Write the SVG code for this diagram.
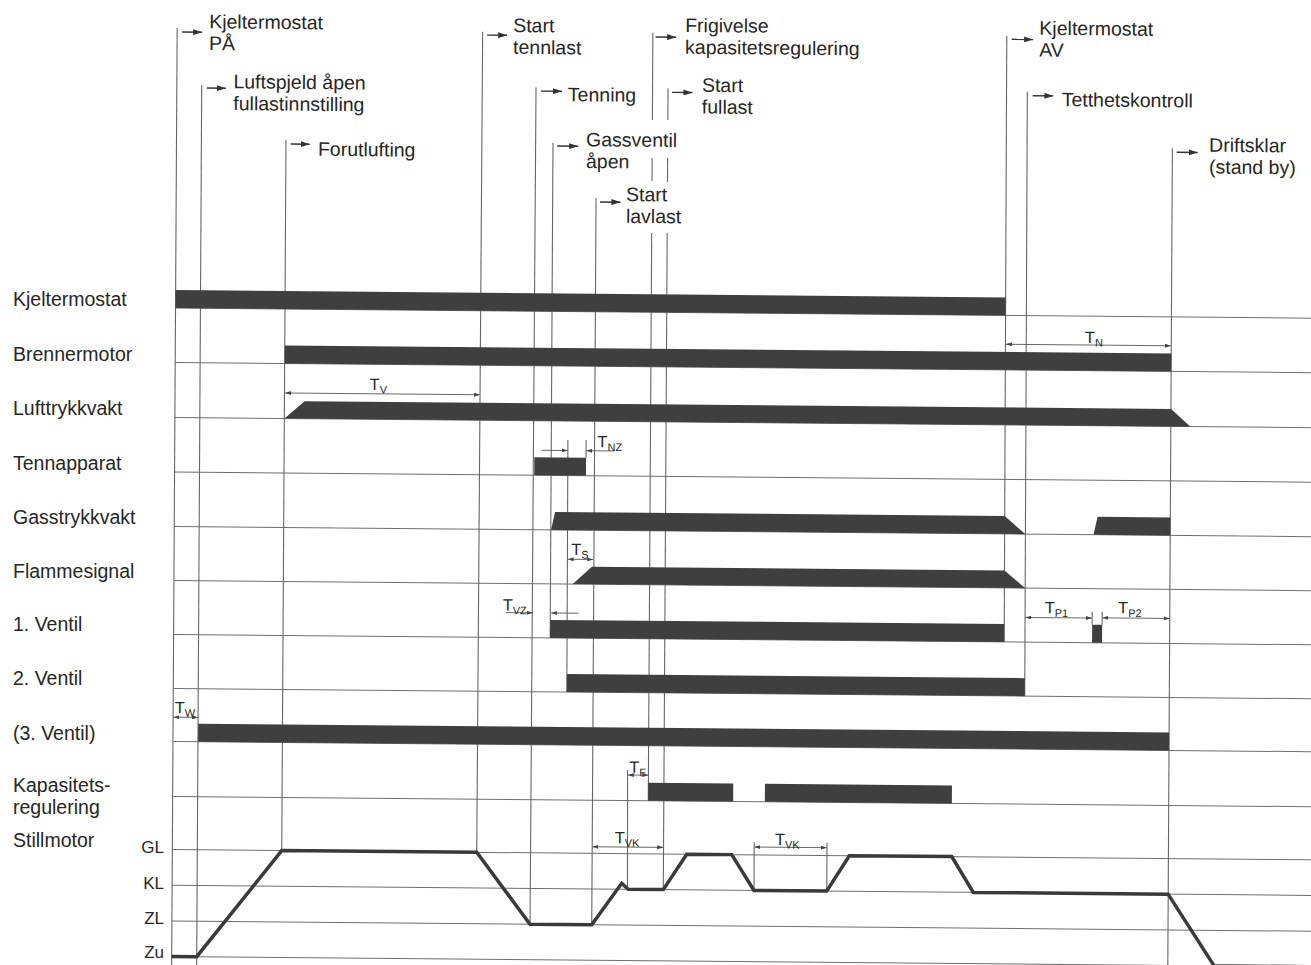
<svg xmlns="http://www.w3.org/2000/svg" width="1311" height="965" viewBox="0 0 1311 965">
<defs>
<marker id="ev" viewBox="0 0 9 6" refX="9" refY="3" markerWidth="9" markerHeight="6" markerUnits="userSpaceOnUse" orient="auto"><path d="M0,0 L9,3 L0,6 z" fill="#333"/></marker>
<marker id="dm" viewBox="0 0 6 4" refX="6" refY="2" markerWidth="6" markerHeight="4" markerUnits="userSpaceOnUse" orient="auto-start-reverse"><path d="M0,0 L6,2 L0,4 z" fill="#444"/></marker>
</defs>
<style>
text{font-family:"Liberation Sans",Arial,sans-serif;fill:#262626}
.lbl{font-size:19.5px}
.lv{font-size:17px}
.tl{font-size:16.5px}
.sub{font-size:11px}
.g{stroke:#6e6e6e;stroke-width:1;fill:none}
.v{stroke:#666;stroke-width:1.1;fill:none}
.bar{fill:#3f3f3f}
.ea{stroke:#333;stroke-width:1.4;marker-end:url(#ev)}
.dim{stroke:#555;stroke-width:0.9;fill:none}
.d2{marker-start:url(#dm);marker-end:url(#dm)}
.d1{marker-end:url(#dm)}
.curve{stroke:#3a3a3a;stroke-width:3.5;fill:none;stroke-linejoin:miter}
</style>
<rect x="0" y="0" width="1311" height="965" fill="#ffffff"/>

<g id="row-labels" class="lbl">
<text x="13" y="306">Kjeltermostat</text>
<text x="13" y="360.5">Brennermotor</text>
<text x="13" y="415">Lufttrykkvakt</text>
<text x="13" y="469.5">Tennapparat</text>
<text x="13" y="523.5">Gasstrykkvakt</text>
<text x="13" y="577.5">Flammesignal</text>
<text x="13" y="631">1. Ventil</text>
<text x="13" y="685">2. Ventil</text>
<text x="13" y="739.5">(3. Ventil)</text>
<text x="13" y="792">Kapasitets-</text>
<text x="13" y="814">regulering</text>
<text x="13" y="847">Stillmotor</text>
</g>
<g id="level-labels" class="lv" text-anchor="end">
<text x="164" y="853">GL</text>
<text x="164" y="889">KL</text>
<text x="164" y="924">ZL</text>
<text x="164" y="958">Zu</text>
</g>

<g id="chart" transform="matrix(1 0.009 -0.0043 1 1.29 -1.584)">
<g id="baselines" class="g">
<line x1="175.5" y1="308" x2="1320" y2="308"/>
<line x1="175.5" y1="362.5" x2="1320" y2="362.5"/>
<line x1="175.5" y1="417.5" x2="1320" y2="417.5"/>
<line x1="175.5" y1="472" x2="1320" y2="472"/>
<line x1="175.5" y1="526.5" x2="1320" y2="526.5"/>
<line x1="175.5" y1="580.5" x2="1320" y2="580.5"/>
<line x1="175.5" y1="634.5" x2="1320" y2="634.5"/>
<line x1="175.5" y1="688.5" x2="1320" y2="688.5"/>
<line x1="175.5" y1="741.5" x2="1320" y2="741.5"/>
<line x1="175.5" y1="796.5" x2="1320" y2="796.5"/>
<line x1="174.5" y1="849.6" x2="1320" y2="849.6"/>
<line x1="174.5" y1="885.2" x2="1320" y2="885.2"/>
<line x1="174.5" y1="921" x2="1320" y2="921"/>
<line x1="174.5" y1="956.5" x2="1320" y2="956.5"/>
</g>

<g id="connectors">
<g class="v">
<line x1="176" y1="28" x2="174.5" y2="975"/>
<line x1="200.8" y1="84.8" x2="199.5" y2="975"/>
<line x1="285.3" y1="139" x2="284.1" y2="849.7"/>
<line x1="481.5" y1="29" x2="479.1" y2="849.6"/>
<line x1="535.1" y1="84" x2="532.7" y2="921"/>
<line x1="552.3" y1="139.6" x2="551.6" y2="634.5"/>
<line x1="568.5" y1="436.5" x2="568.5" y2="688.5"/>
<line x1="586.7" y1="436.5" x2="586.7" y2="454"/>
<line x1="595.6" y1="194.2" x2="594.4" y2="920.8"/>
<line x1="651.7" y1="28.4" x2="651.6" y2="115.7"/>
<line x1="651.5" y1="153.7" x2="651.5" y2="176.7"/>
<line x1="651.4" y1="228.7" x2="650.4" y2="796.5"/>
<line x1="667.1" y1="83.9" x2="667.1" y2="115.6"/>
<line x1="667" y1="153.6" x2="667" y2="177.6"/>
<line x1="666.9" y1="228.6" x2="665.8" y2="885"/>
<line x1="629.6" y1="766" x2="630" y2="885"/>
<line x1="756.5" y1="837" x2="756.5" y2="885.6"/>
<line x1="829.3" y1="837" x2="829.3" y2="885.2"/>
<line x1="1005.6" y1="28.5" x2="1005.6" y2="634.5"/>
<line x1="1026.4" y1="84" x2="1026.4" y2="688.5"/>
<line x1="1093.5" y1="603.5" x2="1093.5" y2="616.5"/>
<line x1="1103.5" y1="603.5" x2="1103.5" y2="616.5"/>
<line x1="1171.7" y1="139.3" x2="1170.6" y2="975"/>
</g>
<g id="event-arrows">
<line class="ea" x1="181" y1="32" x2="201" y2="32"/>
<line class="ea" x1="206" y1="87.8" x2="225" y2="87.8"/>
<line class="ea" x1="290" y1="143" x2="309" y2="143"/>
<line class="ea" x1="486" y1="32.3" x2="506" y2="32.3"/>
<line class="ea" x1="540" y1="87.8" x2="561" y2="87.8"/>
<line class="ea" x1="556.5" y1="142.6" x2="577.5" y2="142.6"/>
<line class="ea" x1="599.6" y1="198.2" x2="620" y2="198.2"/>
<line class="ea" x1="654.5" y1="32.7" x2="675" y2="32.7"/>
<line class="ea" x1="671" y1="87.9" x2="691.5" y2="87.9"/>
<line class="ea" x1="1010.6" y1="31.8" x2="1032" y2="31.8"/>
<line class="ea" x1="1031.8" y1="88" x2="1052.5" y2="88"/>
<line class="ea" x1="1176" y1="143.3" x2="1197" y2="143.3"/>
</g>
</g>

<g id="event-labels" class="lbl">
<g id="ev-kjeltermostat-pa"><text x="208" y="28">Kjeltermostat</text><text x="208" y="49.8">PÅ</text></g>
<g id="ev-luftspjeld"><text x="232.5" y="87.8">Luftspjeld åpen</text><text x="232.5" y="109.6">fullastinnstilling</text></g>
<g id="ev-forutlufting"><text x="317.3" y="154.5">Forutlufting</text></g>
<g id="ev-start-tennlast"><text x="512" y="29">Start</text><text x="512" y="50.8">tennlast</text></g>
<g id="ev-tenning"><text x="567" y="97.7">Tenning</text></g>
<g id="ev-gassventil"><text x="585.4" y="142.5">Gassventil</text><text x="585.4" y="164.3">åpen</text></g>
<g id="ev-start-lavlast"><text x="625.6" y="197">Start</text><text x="625.6" y="218.8">lavlast</text></g>
<g id="ev-frigivelse"><text x="684" y="27.4">Frigivelse</text><text x="684" y="49.2">kapasitetsregulering</text></g>
<g id="ev-start-fullast"><text x="701" y="87">Start</text><text x="701" y="108.8">fullast</text></g>
<g id="ev-kjeltermostat-av"><text x="1038.2" y="27">Kjeltermostat</text><text x="1038.2" y="48.8">AV</text></g>
<g id="ev-tetthetskontroll"><text x="1060.8" y="98.3">Tetthetskontroll</text></g>
<g id="ev-driftsklar"><text x="1208.4" y="142.4">Driftsklar</text><text x="1208.4" y="164.2">(stand by)</text></g>
</g>

<g id="signals">
<g id="sig-kjeltermostat"><rect class="bar" x="175.5" y="290" width="830.1" height="18"/></g>
<g id="sig-brennermotor"><rect class="bar" x="285" y="344.5" width="886.5" height="18"/></g>
<g id="sig-lufttrykkvakt"><polygon class="bar" points="285,417.5 305,400 1171.5,400 1191,417.5"/></g>
<g id="sig-tennapparat"><rect class="bar" x="535" y="454" width="51.7" height="18"/></g>
<g id="sig-gasstrykkvakt"><polygon class="bar" points="552,526.5 556,508.5 1005.6,508.5 1026.4,526.5"/><polygon class="bar" points="1094.5,526.5 1098.5,508.5 1171.3,508.5 1171.3,526.5"/></g>
<g id="sig-flammesignal"><polygon class="bar" points="574,580.5 593,563 1005.6,563 1026.4,580.5"/></g>
<g id="sig-ventil1"><rect class="bar" x="551.5" y="616.5" width="454.1" height="18"/><rect class="bar" x="1093.5" y="616.5" width="10" height="18"/></g>
<g id="sig-ventil2"><rect class="bar" x="568.5" y="670.5" width="457.9" height="18"/></g>
<g id="sig-ventil3"><rect class="bar" x="200" y="723.5" width="971" height="18"/></g>
<g id="sig-kapasitet"><rect class="bar" x="650.3" y="778.5" width="85" height="18"/><rect class="bar" x="767" y="778.5" width="187" height="18"/></g>
<g id="sig-stillmotor"><path class="curve" d="M174.5,956.5 L199.5,956.5 L284.1,849.6 L479.1,849.6 L532.7,921 L594.4,921 L624.2,879.3 L630.8,885.2 L665.8,885.2 L689.1,849.6 L734.1,849.6 L756.5,885.2 L829.2,885.2 L851.7,849.6 L954.1,849.6 L975.8,885.2 L1170.6,885.2 L1217,956.5 L1320,956.5"/></g>
</g>

<g id="dimensions">
<line class="dim d2" x1="285.5" y1="392" x2="480.3" y2="392"/>
<text class="tl" x="370" y="388.3">T<tspan class="sub" dy="3.5">V</tspan></text>
<line class="dim d2" x1="1006" y1="336.8" x2="1171" y2="336.8"/>
<text class="tl" x="1085" y="334.8">T<tspan class="sub" dy="3.5">N</tspan></text>
<line class="dim d1" x1="542.3" y1="447" x2="568.3" y2="447"/>
<line class="dim d1" x1="615.6" y1="447" x2="587" y2="447"/>
<text class="tl" x="598" y="443.5">T<tspan class="sub" dy="3.5">NZ</tspan></text>
<line class="dim d2" x1="568.8" y1="555.7" x2="594.3" y2="555.7"/>
<text class="tl" x="572.3" y="551.4">T<tspan class="sub" dy="3.5">S</tspan></text>
<line class="dim d1" x1="507" y1="609.6" x2="534" y2="609.6"/>
<line class="dim d1" x1="580" y1="609.6" x2="552.6" y2="609.6"/>
<text class="tl" x="504" y="607.6">T<tspan class="sub" dy="3.5">VZ</tspan></text>
<line class="dim d2" x1="175.3" y1="717.2" x2="199.8" y2="717.2"/>
<text class="tl" x="176.5" y="713.2">T<tspan class="sub" dy="3.5">W</tspan></text>
<line class="dim d2" x1="1026.8" y1="609.8" x2="1093.2" y2="609.8"/>
<text class="tl" x="1046" y="605.4">T<tspan class="sub" dy="3.5">P1</tspan></text>
<line class="dim d2" x1="1103.8" y1="609.5" x2="1171" y2="609.5"/>
<text class="tl" x="1119.4" y="604.8">T<tspan class="sub" dy="3.5">P2</tspan></text>
<line class="dim d2" x1="629.9" y1="770.9" x2="650.3" y2="770.9"/>
<text class="tl" x="631.2" y="768.6">T<tspan class="sub" dy="3.5">F</tspan></text>
<line class="dim d2" x1="594.8" y1="843" x2="665.5" y2="843"/>
<text class="tl" x="617" y="839.2">T<tspan class="sub" dy="3.5">VK</tspan></text>
<line class="dim d2" x1="756.8" y1="841.8" x2="829" y2="841.8"/>
<text class="tl" x="777.2" y="839.6">T<tspan class="sub" dy="3.5">VK</tspan></text>
</g>
</g>
</svg>
